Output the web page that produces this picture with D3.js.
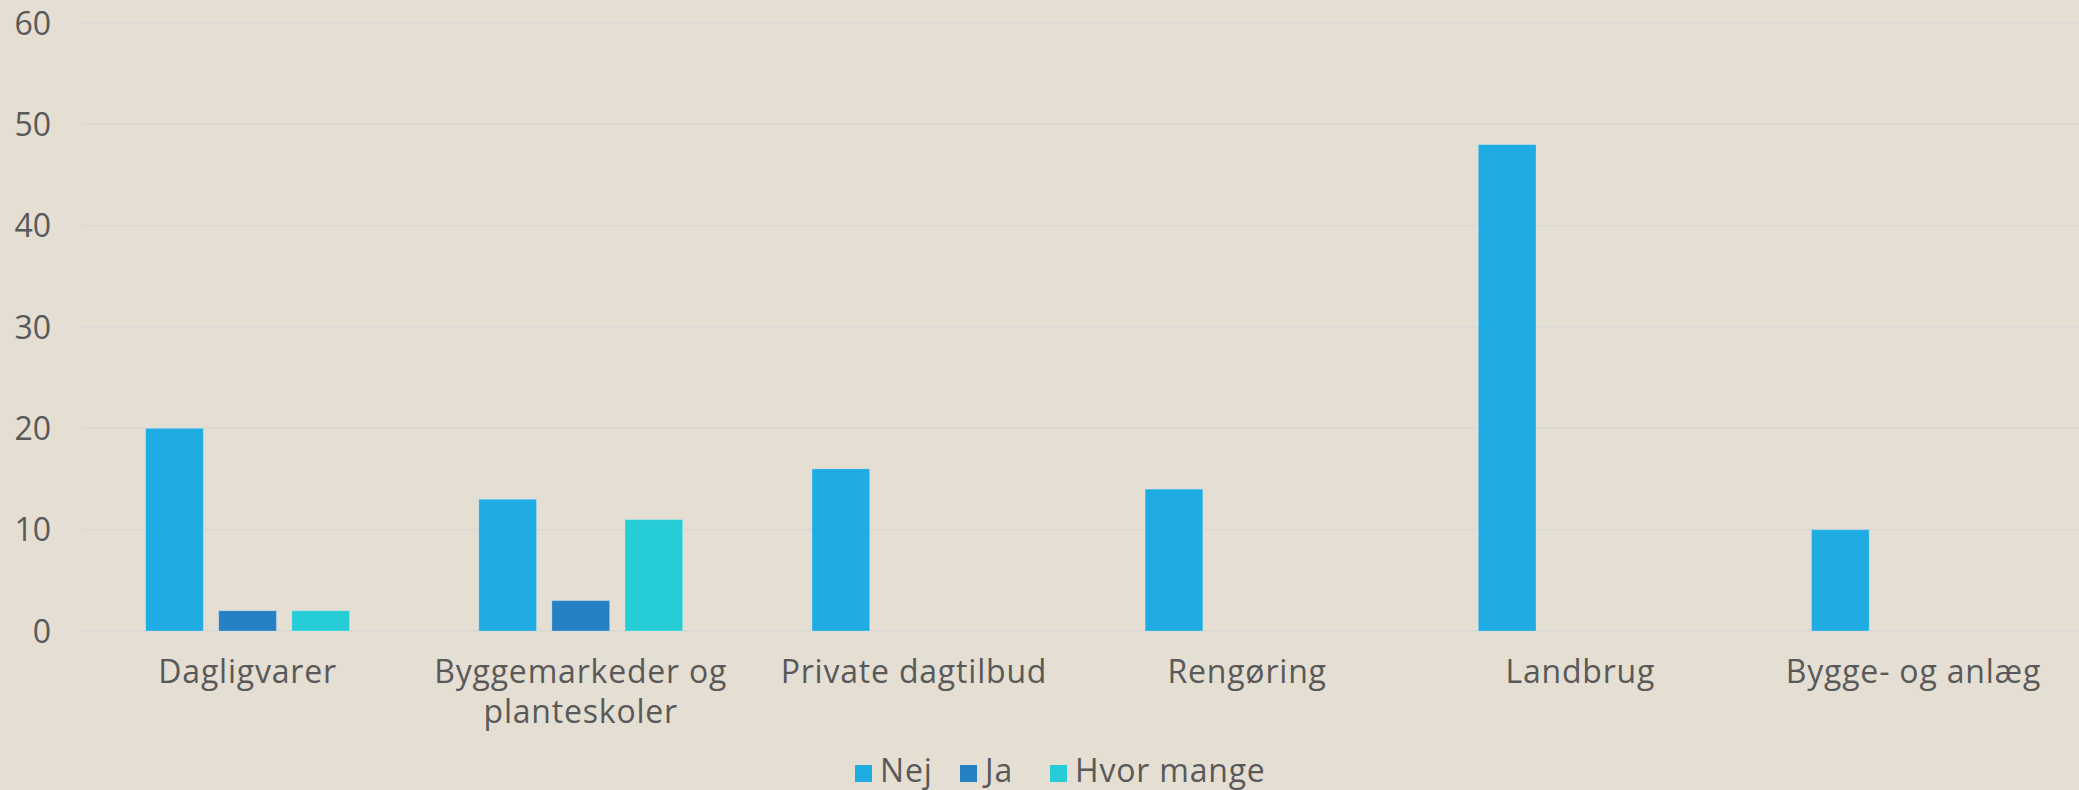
<!DOCTYPE html>
<html>
<head>
<meta charset="utf-8">
<script src="https://cdn.jsdelivr.net/npm/d3@7"></script>
<style>
  html, body { margin: 0; padding: 0; background: #e4ded3; }
  svg text { font-family: "Open Sans", sans-serif; fill: #595959; }
</style>
</head>
<body>
<svg id="chart" width="2079" height="790"></svg>
<script>
// categories and series
var categories = [
    ["Dagligvarer"],
    ["Byggemarkeder og", "planteskoler"],
    ["Private dagtilbud"],
    ["Rengøring"],
    ["Landbrug"],
    ["Bygge- og anlæg"]
];
var seriesNames = ["Nej", "Ja", "Hvor mange"];
var nej = [20, 13, 16, 14, 48, 10];
var ja = [2, 3, 0, 0, 0, 0];
var hvorMange = [2, 11, 0, 0, 0, 0];
var yTicks = [0, 10, 20, 30, 40, 50, 60];
var colors = ["#1eace3", "#2581c4", "#26ccd6"];

var series = [nej, ja, hvorMange];

var svg = d3.select("#chart");
var plotLeft = 81, plotRight = 2080, plotTop = 23, plotBottom = 631;

var x = d3.scaleBand()
    .domain(d3.range(categories.length))
    .range([plotLeft, plotRight])
    .paddingInner(0)
    .paddingOuter(0);

var y = d3.scaleLinear()
    .domain([0, 60])
    .range([plotBottom, plotTop]);

// sub-band inside each category: bars 58px wide with 15px gaps
var bw = x.bandwidth();
var xs = d3.scaleBand()
    .domain(d3.range(seriesNames.length))
    .range([bw * 0.194, bw * 0.806])
    .paddingInner(0.21)
    .paddingOuter(0);

//Gridlines
svg.append("g").selectAll("line")
    .data(yTicks)
    .enter()
    .append("line")
    .attr("x1", plotLeft)
    .attr("x2", plotRight)
    .attr("y1", function(d) { return y(d); })
    .attr("y2", function(d) { return y(d); })
    .style("stroke", "#d9d7d3")
    .style("stroke-width", 1.6);

//Y tick labels
svg.append("g").selectAll("text")
    .data(yTicks)
    .enter()
    .append("text")
    .attr("x", 51)
    .attr("y", function(d) { return y(d); })
    .attr("dy", "0.36em")
    .attr("text-anchor", "end")
    .style("font-size", "32px")
    .text(function(d) { return d; });

//Bars
var groups = svg.append("g").selectAll("g")
    .data(series)
    .enter()
    .append("g")
    .style("fill", function(d, i) { return colors[i]; });

groups.selectAll("rect")
    .data(function(d, i) {
        return d.map(function(v, c) { return {value: v, cat: c, s: i}; })
            .filter(function(p) { return p.value > 0; });
    })
    .enter()
    .append("rect")
    .attr("x", function(d) { return x(d.cat) + xs(d.s); })
    .attr("width", xs.bandwidth())
    .attr("y", function(d) { return y(d.value); })
    .attr("height", function(d) { return y(0) - y(d.value); })
    .style("stroke", "rgba(255,255,255,0.25)")
    .style("stroke-width", 1);

//Category labels
var catLabels = svg.append("g").selectAll("text")
    .data(categories)
    .enter()
    .append("text")
    .attr("text-anchor", "middle")
    .attr("transform", function(d, i) {
        return "translate(" + (x(i) + bw / 2) + ",683)";
    })
    .style("font-size", "32px")
    .style("letter-spacing", "0.8px");

catLabels.selectAll("tspan")
    .data(function(d) { return d; })
    .enter()
    .append("tspan")
    .attr("x", 0)
    .attr("y", function(d, i) { return i * 40; })
    .text(function(d) { return d; });

//Legend
var legendX = [855, 960, 1050];
var legend = svg.append("g").selectAll("g")
    .data(seriesNames)
    .enter()
    .append("g")
    .attr("transform", function(d, i) { return "translate(" + legendX[i] + ",765)"; });

legend.append("rect")
    .attr("width", 17)
    .attr("height", 17)
    .style("fill", function(d, i) { return colors[i]; });

legend.append("text")
    .attr("x", 25)
    .attr("y", 17)
    .style("font-size", "32px")
    .style("letter-spacing", "0.8px")
    .text(function(d) { return d; });
</script>
</body>
</html>
